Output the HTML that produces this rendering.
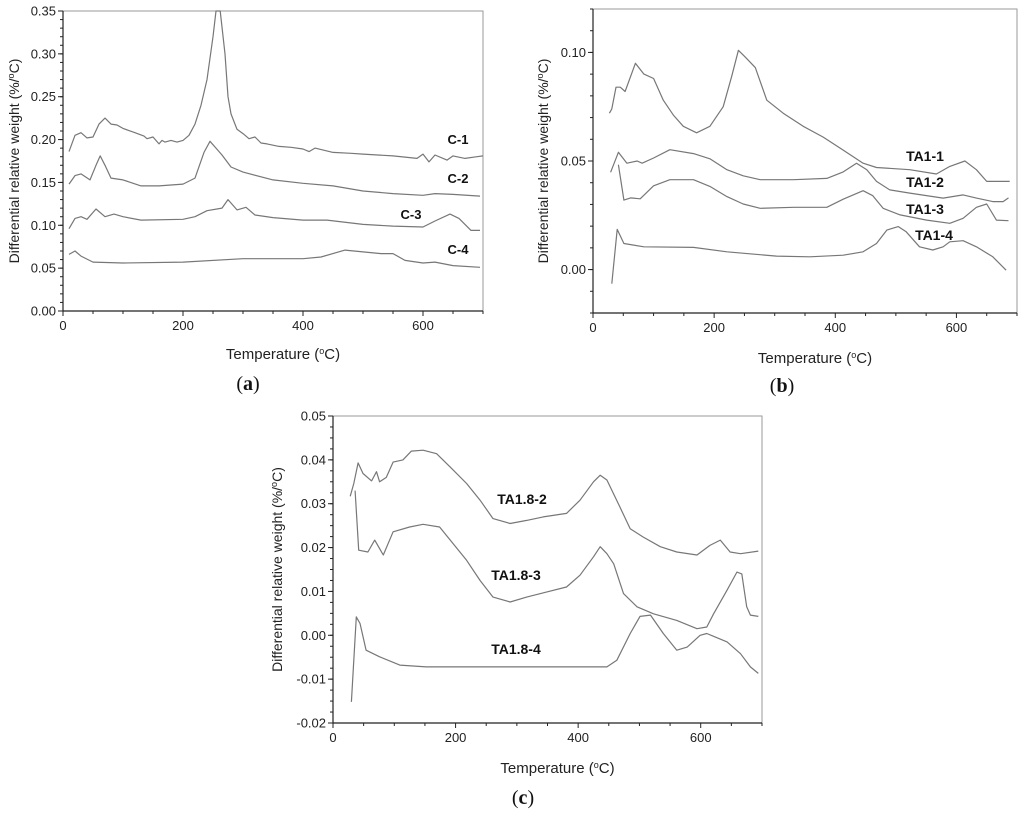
<!DOCTYPE html>
<html><head><meta charset="utf-8"><style>
html,body{margin:0;padding:0;background:#fff;}
svg{display:block;font-family:"Liberation Sans",Arial,sans-serif;}
</style></head><body>
<svg id="fig" width="1024" height="813" viewBox="0 0 1024 813" xmlns="http://www.w3.org/2000/svg"></svg>
<script>
// ---- Panel (a) data ----
const c1T=[10,20,30,40,50,60,70,80,90,100,120,135,140,150,160,165,170,180,190,200,210,220,230,240,250,255,262,270,275,280,290,300,310,320,330,340,360,380,400,410,420,450,480,500,550,590,600,610,620,640,650,670,690,700];
const c1V=[0.186,0.205,0.208,0.202,0.203,0.218,0.225,0.218,0.217,0.213,0.208,0.204,0.201,0.203,0.195,0.199,0.197,0.199,0.197,0.199,0.205,0.218,0.24,0.27,0.32,0.35,0.35,0.30,0.25,0.23,0.212,0.207,0.201,0.203,0.196,0.195,0.192,0.191,0.189,0.186,0.190,0.185,0.184,0.183,0.181,0.178,0.183,0.174,0.182,0.176,0.181,0.178,0.180,0.181];
const c2T=[10,20,30,45,55,62,70,80,100,130,160,200,220,235,245,255,265,280,300,350,400,450,500,550,600,620,650,695];
const c2V=[0.148,0.158,0.160,0.153,0.170,0.181,0.170,0.155,0.153,0.146,0.146,0.148,0.155,0.185,0.198,0.190,0.182,0.168,0.162,0.153,0.149,0.146,0.140,0.137,0.135,0.137,0.136,0.134];
const c3T=[10,20,30,40,55,70,85,100,130,200,220,240,265,275,290,305,320,350,400,440,500,550,600,620,645,660,680,695];
const c3V=[0.096,0.108,0.110,0.107,0.119,0.110,0.113,0.110,0.106,0.107,0.110,0.117,0.120,0.130,0.118,0.121,0.112,0.109,0.106,0.106,0.101,0.099,0.098,0.105,0.113,0.108,0.094,0.094];
const c4T=[10,20,30,50,100,200,300,400,430,470,500,530,550,570,600,620,650,695];
const c4V=[0.066,0.070,0.064,0.057,0.056,0.057,0.061,0.061,0.063,0.071,0.069,0.067,0.067,0.059,0.056,0.057,0.053,0.051];
// ---- Panel (b) data ----
const b1T=[27,31,38,45,53,70,84,100,116,133,149,171,193,215,229,240,251,268,287,314,347,380,413,446,468,523,567,589,614,633,650,688];
const b1V=[0.072,0.074,0.084,0.084,0.082,0.095,0.090,0.088,0.078,0.071,0.066,0.063,0.066,0.075,0.089,0.101,0.098,0.093,0.078,0.072,0.066,0.061,0.055,0.049,0.047,0.046,0.044,0.0475,0.050,0.046,0.0406,0.0406];
const b2T=[29,42,56,73,81,100,127,166,193,221,248,276,331,386,413,435,452,468,490,523,578,611,633,660,677,686];
const b2V=[0.0448,0.054,0.049,0.050,0.049,0.0514,0.0552,0.0534,0.051,0.046,0.0432,0.0414,0.0414,0.042,0.045,0.049,0.046,0.0406,0.0367,0.0352,0.0329,0.0344,0.0329,0.0313,0.0313,0.033];
const b3T=[42,51,62,78,100,127,166,193,221,248,276,331,386,413,446,462,479,507,551,589,611,633,650,666,686];
const b3V=[0.0483,0.032,0.033,0.0326,0.0386,0.0414,0.0414,0.0383,0.0336,0.0302,0.0282,0.0287,0.0287,0.0324,0.0363,0.034,0.0282,0.0252,0.0228,0.0213,0.0236,0.0287,0.0302,0.0228,0.0225];
const b4T=[31,40,51,84,166,221,303,358,413,446,468,485,504,517,539,561,578,589,611,633,660,682];
const b4V=[-0.0065,0.0185,0.012,0.0105,0.0102,0.0082,0.0062,0.0059,0.0066,0.0082,0.012,0.0182,0.0198,0.0174,0.0105,0.009,0.0105,0.0128,0.0133,0.0105,0.0059,-0.0003];
// ---- Panel (c) data ----
const d2T=[28,34,41,49,63,71,76,87,98,114,128,147,169,191,218,240,261,289,316,343,381,403,425,436,447,468,485,506,534,561,594,615,632,648,665,694];
const d2V=[0.0317,0.0346,0.0393,0.0369,0.0352,0.0373,0.035,0.036,0.0395,0.040,0.042,0.0422,0.0414,0.0384,0.0346,0.0308,0.0266,0.0255,0.0262,0.027,0.0278,0.0308,0.035,0.0365,0.0354,0.0293,0.0243,0.0224,0.0202,0.019,0.0183,0.0205,0.0217,0.019,0.0186,0.0192];
const d3T=[36,42,57,68,82,98,125,147,174,196,218,240,261,289,316,349,381,403,425,436,447,458,474,496,523,561,594,610,621,643,659,667,675,681,694];
const d3V=[0.033,0.0194,0.019,0.0217,0.0183,0.0236,0.0247,0.0253,0.0247,0.0209,0.0171,0.0125,0.0087,0.0076,0.0087,0.0099,0.011,0.0137,0.0179,0.0202,0.0186,0.0163,0.0095,0.0065,0.0049,0.0034,0.0015,0.0019,0.0049,0.0103,0.0144,0.014,0.0065,0.0046,0.0043];
const d4T=[30,38,44,54,76,109,152,261,370,447,463,485,501,518,539,561,578,599,610,643,665,681,694];
const d4V=[-0.0152,0.0042,0.0027,-0.0034,-0.0049,-0.0068,-0.0072,-0.0072,-0.0072,-0.0072,-0.0057,0.0004,0.0043,0.0046,0.0004,-0.0034,-0.0027,0,0.0004,-0.0015,-0.0042,-0.0072,-0.0087];
// tick labels
const aYTicks=[0,0.05,0.10,0.15,0.20,0.25,0.30,0.35];
const bYTicks=[0,0.05,0.10];
const cYTicks=[-0.02,-0.01,0,0.01,0.02,0.03,0.04,0.05];
const xTicks=[0,200,400,600];

const NS='http://www.w3.org/2000/svg';
const svg=document.getElementById('fig');
function mk(tag,attrs,parent){const e=document.createElementNS(NS,tag);for(const k in attrs)e.setAttribute(k,attrs[k]);(parent||svg).appendChild(e);return e;}

function panel(id,L,R,T,B,ymin,ymax,yt,yMinorStep,ylab,ydec,series,labels,capX,capY,yTitleX,titleY,lblSize){
  const g=mk('g',{});
  
  
  const sx=t=>L+(t/700)*(R-L);
  const sy=v=>B-(v-ymin)/(ymax-ymin)*(B-T);
  const frame=mk('rect',{x:L,y:T,width:R-L,height:B-T,fill:'none',stroke:'#9a9a9a','stroke-width':1},g);
  
  
  const ax=mk('path',{d:`M${L},${T}V${B}H${R}`,fill:'none',stroke:'#222','stroke-width':1.2},g);
  
  
  for(let t=0;t<=700;t+=50){
    const major=t%200===0;
    mk('line',{x1:sx(t),x2:sx(t),y1:B,y2:B+(major?5:3),stroke:'#222','stroke-width':1},g);
  }
  xTicks.forEach(t=>{
    const tx=mk('text',{x:sx(t),y:B+19,'font-size':13,'text-anchor':'middle',fill:'#222'},g);
    tx.textContent=String(t);
    
    
  });
  const n=Math.round((ymax-ymin)/yMinorStep);
  for(let i=0;i<=n;i++){
    const v=ymin+i*yMinorStep;
    mk('line',{x1:L-3,x2:L,y1:sy(v),y2:sy(v),stroke:'#222','stroke-width':1},g);
  }
  yt.forEach(v=>{
    mk('line',{x1:L-5,x2:L,y1:sy(v),y2:sy(v),stroke:'#222','stroke-width':1},g);
    const tx=mk('text',{x:L-7,y:sy(v)+4.5,'font-size':13,'text-anchor':'end',fill:'#222'},g);
    tx.textContent=v.toFixed(ydec);
    
    
  });
  series.forEach((s,i)=>{
    const d=s[0].map((t,k)=>(k?'L':'M')+sx(t).toFixed(1)+','+sy(s[1][k]).toFixed(1)).join('');
    const p=mk('path',{d:d,fill:'none',stroke:'#777','stroke-width':1.2,'stroke-linejoin':'round'},g);
    
    
  });
  labels.forEach(l=>{
    const tx=mk('text',{x:l[1],y:l[2],'font-size':lblSize,'font-weight':'bold','text-anchor':'middle',fill:'#111'},g);
    tx.textContent=l[0];
    
    
  });
  const xt=mk('text',{x:(L+R)/2+10,y:titleY,'font-size':15,'text-anchor':'middle',fill:'#222'},g);
  xt.innerHTML='Temperature (<tspan baseline-shift="super" font-size="9">o</tspan>C)';
  
  
  const yc=(T+B)/2;
  const ytl=mk('text',{x:yTitleX,y:yc,'font-size':14,'text-anchor':'middle',fill:'#222',transform:`rotate(-90 ${yTitleX} ${yc})`},g);
  ytl.innerHTML='Differential relative weight (%/<tspan baseline-shift="super" font-size="9">o</tspan>C)';
  
  
  const cap=mk('text',{x:capX,y:capY,'font-size':20,'text-anchor':'middle',fill:'#111','font-family':'Liberation Serif, serif'},g);
  cap.innerHTML='(<tspan font-weight="bold">'+id+'</tspan>)';
  
  
}
panel('a',63,483,11,311,0,0.35,aYTicks,0.01,'',2,
  [[c1T,c1V,'C-1'],[c2T,c2V,'C-2'],[c3T,c3V,'C-3'],[c4T,c4V,'C-4']],
  [['C-1',458,144],['C-2',458,183],['C-3',411,219],['C-4',458,254]],248,390,19,359,13);
panel('b',593,1017,9,313,-0.02,0.12,bYTicks,0.01,'',2,
  [[b1T,b1V,'TA1-1'],[b2T,b2V,'TA1-2'],[b3T,b3V,'TA1-3'],[b4T,b4V,'TA1-4']],
  [['TA1-1',925,161],['TA1-2',925,187],['TA1-3',925,214],['TA1-4',934,240]],782,392,548,363,14);
panel('c',333,762,416,723,-0.02,0.05,cYTicks,0.0025,'',2,
  [[d2T,d2V,'TA1.8-2'],[d3T,d3V,'TA1.8-3'],[d4T,d4V,'TA1.8-4']],
  [['TA1.8-2',522,504],['TA1.8-3',516,580],['TA1.8-4',516,654]],523,804,282,773,14);
</script>
</body></html>
